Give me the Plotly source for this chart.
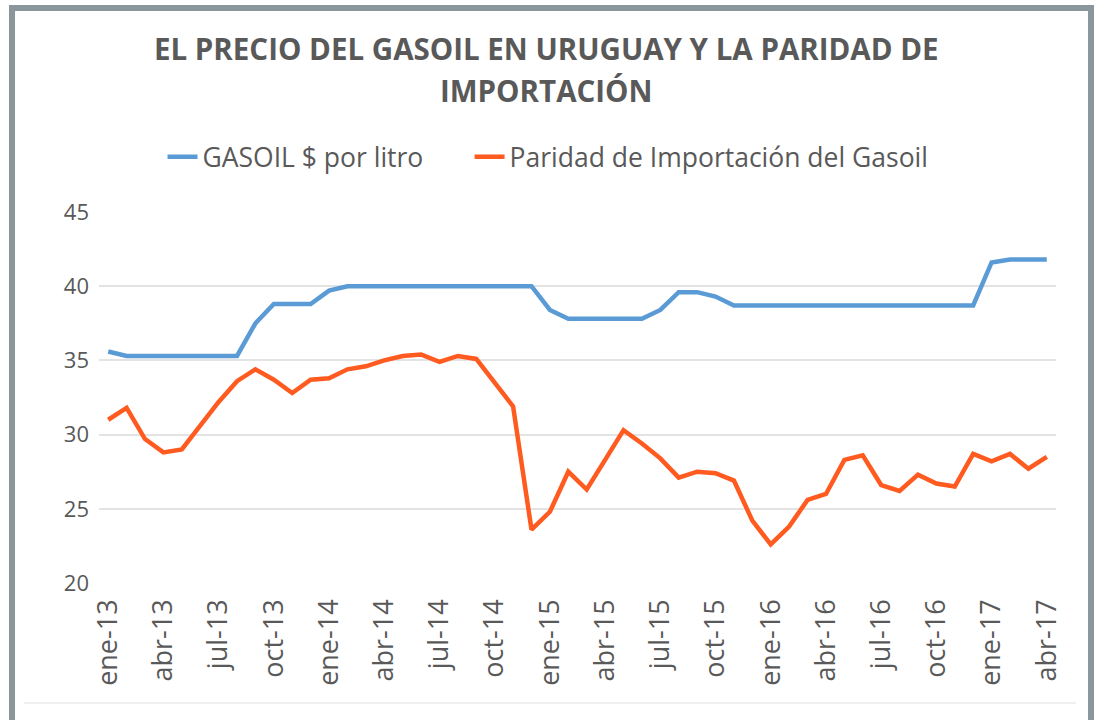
import plotly.graph_objects as go

months = []
for yy in ["13", "14", "15", "16", "17"]:
    for m in ["ene", "feb", "mar", "abr", "may", "jun", "jul", "ago", "sep", "oct", "nov", "dic"]:
        months.append(f"{m}-{yy}")
months = months[:52]  # ene-13 .. abr-17

gasoil = [35.6, 35.3, 35.3, 35.3, 35.3, 35.3, 35.3, 35.3, 37.5, 38.8,
          38.8, 38.8, 39.7, 40.0, 40.0, 40.0, 40.0, 40.0, 40.0, 40.0,
          40.0, 40.0, 40.0, 40.0, 38.4, 37.8, 37.8, 37.8, 37.8, 37.8,
          38.4, 39.6, 39.6, 39.3, 38.7, 38.7, 38.7, 38.7, 38.7, 38.7,
          38.7, 38.7, 38.7, 38.7, 38.7, 38.7, 38.7, 38.7, 41.6, 41.8,
          41.8, 41.8]

paridad = [31.0, 31.8, 29.7, 28.8, 29.0, 30.6, 32.2, 33.6, 34.4, 33.7,
           32.8, 33.7, 33.8, 34.4, 34.6, 35.0, 35.3, 35.4, 34.9, 35.3,
           35.1, 33.5, 31.9, 23.6, 24.8, 27.5, 26.3, 28.3, 30.3, 29.4,
           28.4, 27.1, 27.5, 27.4, 26.9, 24.2, 22.6, 23.8, 25.6, 26.0,
           28.3, 28.6, 26.6, 26.2, 27.3, 26.7, 26.5, 28.7, 28.2, 28.7,
           27.7, 28.5]

tick_labels = months[::3]
title_lines = ["EL PRECIO DEL GASOIL EN URUGUAY Y LA PARIDAD DE", "IMPORTACIÓN"]
series_names = ["GASOIL $ por litro", "Paridad de Importación del Gasoil"]

W, H = 1096, 720
L, R, T, B = 99, 40, 212, 137
pw, ph = W - L - R, H - T - B
GREY = "#595959"

def px(x):
    return (x - L) / pw

def py(y):
    return (H - B - y) / ph

fig = go.Figure()
fig.add_trace(go.Scatter(x=months, y=gasoil, mode="lines",
                         name=series_names[0] + "\u00a0" * 6,
                         line=dict(color="#5B9BD5", width=4.5)))
fig.add_trace(go.Scatter(x=months, y=paridad, mode="lines", name=series_names[1],
                         line=dict(color="#FF5A1F", width=4.5)))

fig.update_layout(
    width=W, height=H,
    margin=dict(l=L, r=R, t=T, b=B),
    paper_bgcolor="white", plot_bgcolor="white",
    font=dict(family="Open Sans", color=GREY),
    legend=dict(orientation="h", x=0.5 * (px(138) + px(958)), xanchor="center",
                y=py(157), yanchor="middle",
                font=dict(size=26.5, color=GREY), itemwidth=30,
                bgcolor="rgba(0,0,0,0)"),
    showlegend=True,
)
for txt, yc in zip(title_lines, [48, 90]):
    fig.add_annotation(text=f"<b>{txt}</b>", xref="paper", yref="paper",
                       x=px(546), y=py(yc), xanchor="center", yanchor="middle",
                       showarrow=False, font=dict(size=29.5, color=GREY, family="Open Sans"))

fig.update_xaxes(type="category", range=[-0.5, 51.5], tickmode="array",
                 tickvals=tick_labels, ticktext=tick_labels, tickangle=-90,
                 tickfont=dict(size=27, color=GREY), showgrid=False,
                 showline=False, ticks="", ticklen=0, ticklabelstandoff=10)
fig.update_yaxes(range=[20, 45], dtick=5, showgrid=True, gridcolor="#E3E3E3",
                 gridwidth=1.5, zeroline=False, showline=False,
                 tickfont=dict(size=22, color=GREY), ticks="", ticklabelstandoff=9)

# outer grey frame
fig.add_shape(type="rect", xref="paper", yref="paper",
              x0=px(12), x1=px(1091), y0=py(8), y1=py(760),
              line=dict(color="#8A9699", width=6), fillcolor="rgba(0,0,0,0)", layer="above")
# light inner line near bottom
fig.add_shape(type="line", xref="paper", yref="paper",
              x0=px(24), x1=px(1076), y0=py(703), y1=py(703),
              line=dict(color="#EFEFEF", width=2))

fig.write_html("out.html", config={"displayModeBar": False},
               post_script="document.body.style.margin='0';")
